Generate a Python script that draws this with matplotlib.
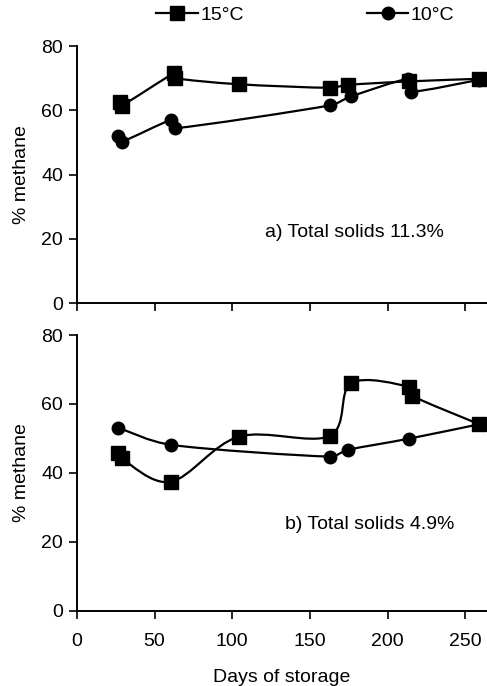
import numpy as np
import matplotlib
matplotlib.use('Agg')
import matplotlib.pyplot as plt
from matplotlib.path import Path
from matplotlib.patches import PathPatch
from matplotlib.lines import Line2D

plt.rcParams['font.family'] = ['Liberation Sans', 'DejaVu Sans']

#====================================
# data
# a) total solids 11.3%
days_a15 = [27.6, 28.7, 62.3, 63.0, 104.3, 162.6, 174.4, 214.0, 259.0]
meth_a15 = [62.7, 61.4, 71.5, 70.0, 68.1, 67.0, 67.9, 69.0, 69.8]
days_a10 = [26.5, 28.7, 60.8, 63.0, 162.6, 176.5, 213.0, 215.0, 259.0]
meth_a10 = [52.1, 50.2, 57.0, 54.4, 61.5, 64.3, 69.7, 65.8, 69.5]

# b) total solids 4.9%
days_b15 = [26.5, 28.7, 60.4, 104.3, 162.6, 176.5, 213.6, 215.5, 259.0]
meth_b15 = [45.7, 44.2, 37.4, 50.5, 50.7, 66.0, 65.0, 62.4, 54.1]
days_b10 = [26.5, 60.8, 162.6, 174.8, 213.6, 259.0]
meth_b10 = [53.1, 48.1, 44.7, 46.7, 49.9, 54.1]

y_ticks = [0, 20, 40, 60, 80]
x_ticks = [0, 50, 100, 150, 200, 250]
labels = ['15\u00b0C', '10\u00b0C']
notes = ['a) Total solids 11.3%', 'b) Total solids 4.9%']

FS = 14


def smooth_line(ax, xs, ys):
    # catmull-rom style bezier through the points, done in pixel space
    pts = ax.transData.transform(np.column_stack([xs, ys]))
    n = len(pts)
    verts = [pts[0]]
    codes = [Path.MOVETO]
    for i in range(n - 1):
        p0 = pts[max(i - 1, 0)]
        p1 = pts[i]
        p2 = pts[i + 1]
        p3 = pts[min(i + 2, n - 1)]
        seg = np.hypot(*(p2 - p1))
        d1 = (p2 - p0) / 6.0
        d2 = (p3 - p1) / 6.0
        # keep handles short on short segments so no loops appear
        for d in (d1, d2):
            m = np.hypot(*d)
            if m > 0.4 * seg:
                d *= 0.4 * seg / m
        verts += [p1 + d1, p2 - d2, p2]
        codes += [Path.CURVE4] * 3
    verts = ax.transData.inverted().transform(np.array(verts))
    patch = PathPatch(Path(verts, codes), facecolor='none', edgecolor='k',
                      lw=1.6, clip_on=False)
    ax.add_patch(patch)


def style_axis(ax, show_x):
    ax.set_xlim(0, 264)
    ax.set_ylim(0, 80)
    for s in ['top', 'right']:
        ax.spines[s].set_visible(False)
    for s in ['left', 'bottom']:
        ax.spines[s].set_linewidth(1.4)
    ax.set_yticks(y_ticks)
    ax.set_xticks(x_ticks)
    ax.tick_params(direction='out', length=5.5, width=1.2, labelsize=FS, pad=4.5)
    ax.tick_params(axis='x', pad=10.5)
    if not show_x:
        ax.tick_params(axis='x', labelbottom=False)
    ax.set_ylabel('% methane', fontsize=FS, labelpad=8)


fig = plt.figure(figsize=(4.87, 6.86), dpi=100)
ax1 = fig.add_axes([0.158, 0.5583, 0.842, 0.3746])
ax2 = fig.add_axes([0.158, 0.110, 0.842, 0.4016])

style_axis(ax1, False)
style_axis(ax2, True)
ax2.set_xlabel('Days of storage', fontsize=FS, labelpad=14)

panels = [(ax1, days_a15, meth_a15, days_a10, meth_a10, notes[0], 121, 21.8),
          (ax2, days_b15, meth_b15, days_b10, meth_b10, notes[1], 133.7, 25.1)]

for ax, d15, m15, d10, m10, note, tx, ty in panels:
    smooth_line(ax, d15, m15)
    smooth_line(ax, d10, m10)
    ax.plot(d15, m15, ls='none', marker='s', ms=9.5, color='k', clip_on=False, zorder=3)
    ax.plot(d10, m10, ls='none', marker='o', ms=9, color='k', clip_on=False, zorder=3)
    ax.text(tx, ty, note, fontsize=FS, va='center', ha='left')

handles = [Line2D([], [], color='k', lw=1.6, marker='s', ms=9.5),
           Line2D([], [], color='k', lw=1.6, marker='o', ms=9)]
fig.legend(handles, labels, loc='center', bbox_to_anchor=(0.627, 0.978), ncol=2,
           frameon=False, fontsize=FS, handlelength=2.15, handletextpad=0.12,
           columnspacing=6.3, borderaxespad=0)

fig.savefig('out.png', dpi=100)
